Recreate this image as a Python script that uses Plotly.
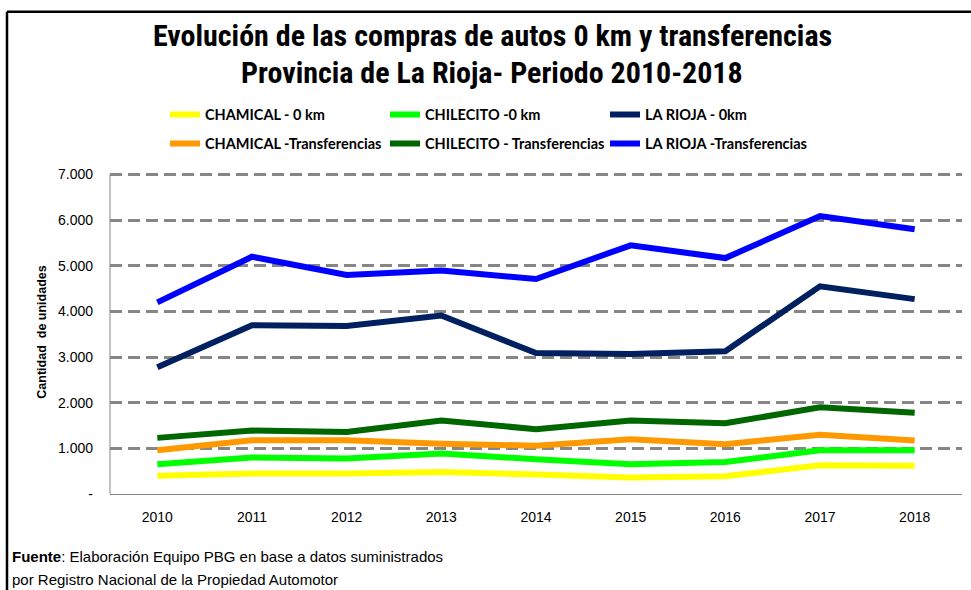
import plotly.graph_objects as go

years = ["2010", "2011", "2012", "2013", "2014", "2015", "2016", "2017", "2018"]

chamical_0km = [400, 450, 450, 480, 430, 360, 390, 630, 620]
chilecito_0km = [650, 800, 780, 890, 760, 650, 700, 960, 960]
larioja_0km = [2780, 3700, 3680, 3910, 3090, 3070, 3130, 4550, 4270]
chamical_transf = [960, 1180, 1180, 1100, 1060, 1200, 1090, 1300, 1170]
chilecito_transf = [1230, 1390, 1360, 1610, 1420, 1610, 1550, 1900, 1780]
larioja_transf = [4200, 5200, 4800, 4900, 4710, 5450, 5170, 6090, 5800]

series = [
    ("CHAMICAL - 0 km", chamical_0km, "#FFFF00", "legend"),
    ("CHILECITO -0 km", chilecito_0km, "#00FF00", "legend"),
    ("LA RIOJA - 0km", larioja_0km, "#002060", "legend"),
    ("CHAMICAL -Transferencias", chamical_transf, "#FF9900", "legend2"),
    ("CHILECITO - Transferencias", chilecito_transf, "#006600", "legend2"),
    ("LA RIOJA -Transferencias", larioja_transf, "#0000FF", "legend2"),
]

y_ticks = [0, 1000, 2000, 3000, 4000, 5000, 6000, 7000]
y_ticktext = ["-", "1.000", "2.000", "3.000", "4.000", "5.000", "6.000", "7.000"]
y_max = 7000

TITLE_FONT = "Liberation Sans Narrow, Roboto Condensed, Arial Narrow, Liberation Sans, sans-serif"
BODY_FONT = "Liberation Sans, Arial, sans-serif"
LEG_FONT = "Lato, Liberation Sans, sans-serif"

fig = go.Figure()
for name, vals, color, leg in series:
    fig.add_trace(go.Scatter(
        x=years, y=vals, name=name, mode="lines",
        line=dict(color=color, width=6),
        legend=leg,
    ))

W, H = 971, 590
L, R, T, B = 110, 9, 169.5, 96
pw = W - L - R
ph = H - T - B

def px_x(x):
    return (x - L) / pw

def px_y(y):
    return (H - B - y) / ph

legend_common = dict(
    orientation="h",
    xanchor="left", yanchor="middle",
    font=dict(family=LEG_FONT, size=14.5, color="#000000", weight="bold"),
    entrywidth=175, entrywidthmode="pixels",
    bgcolor="rgba(0,0,0,0)",
    tracegroupgap=0, itemwidth=30,
)

fig.update_layout(
    width=W, height=H,
    margin=dict(l=L, r=R, t=T, b=B),
    paper_bgcolor="white", plot_bgcolor="white",
    showlegend=True,
    legend=dict(x=px_x(165), y=px_y(114), **legend_common),
    legend2=dict(x=px_x(165), y=px_y(143), **legend_common),
    xaxis=dict(
        type="category", range=[-0.5, 8.5],
        showgrid=False, showline=True, linecolor="#868686", linewidth=1,
        ticks="", ticklabelstandoff=10,
        tickfont=dict(family=BODY_FONT, size=14, color="#000000"),
        zeroline=False,
    ),
    yaxis=dict(
        range=[0, 7100], tickvals=y_ticks, ticktext=y_ticktext,
        showgrid=True, gridcolor="#868686", gridwidth=3, griddash="12px,6px",
        showline=False,
        zeroline=False, ticks="", ticklen=0, ticklabelstandoff=16,
        tickfont=dict(family=BODY_FONT, size=14, color="#000000"),
        title=dict(text="Cantidad  de unidades", standoff=8,
                   font=dict(family=BODY_FONT, size=12.5, color="#000000", weight="bold")),
    ),
    annotations=[
        dict(text="<b>Evolución de las compras de autos 0 km y transferencias</b>",
             xref="paper", yref="paper", x=px_x(492), y=px_y(35),
             xanchor="center", yanchor="middle", showarrow=False,
             font=dict(family=TITLE_FONT, size=30, color="#000000")),
        dict(text="<b>Provincia de La Rioja- Periodo 2010-2018</b>",
             xref="paper", yref="paper", x=px_x(492), y=px_y(72),
             xanchor="center", yanchor="middle", showarrow=False,
             font=dict(family=TITLE_FONT, size=30, color="#000000")),
        dict(text="<b>Fuente</b>: Elaboración Equipo PBG en base a datos suministrados",
             xref="paper", yref="paper", x=px_x(10), y=px_y(557),
             xanchor="left", yanchor="middle", showarrow=False,
             font=dict(family=BODY_FONT, size=15, color="#000000")),
        dict(text="por Registro Nacional de la Propiedad Automotor",
             xref="paper", yref="paper", x=px_x(10), y=px_y(580),
             xanchor="left", yanchor="middle", showarrow=False,
             font=dict(family=BODY_FONT, size=15, color="#000000")),
    ],
    shapes=[
        dict(type="line", xref="paper", yref="y",
             x0=0, x1=0, y0=0, y1=y_max,
             line=dict(color="#868686", width=1), layer="below"),
        dict(type="line", xref="paper", yref="paper",
             x0=px_x(7), x1=px_x(975), y0=px_y(11), y1=px_y(11),
             line=dict(color="#000000", width=2.5)),
        dict(type="line", xref="paper", yref="paper",
             x0=px_x(7), x1=px_x(7), y0=px_y(11), y1=px_y(600),
             line=dict(color="#000000", width=2.5)),
    ],
)

fig.write_html("out.html", config={"displayModeBar": False},
               post_script="document.body.style.margin='0px';")
